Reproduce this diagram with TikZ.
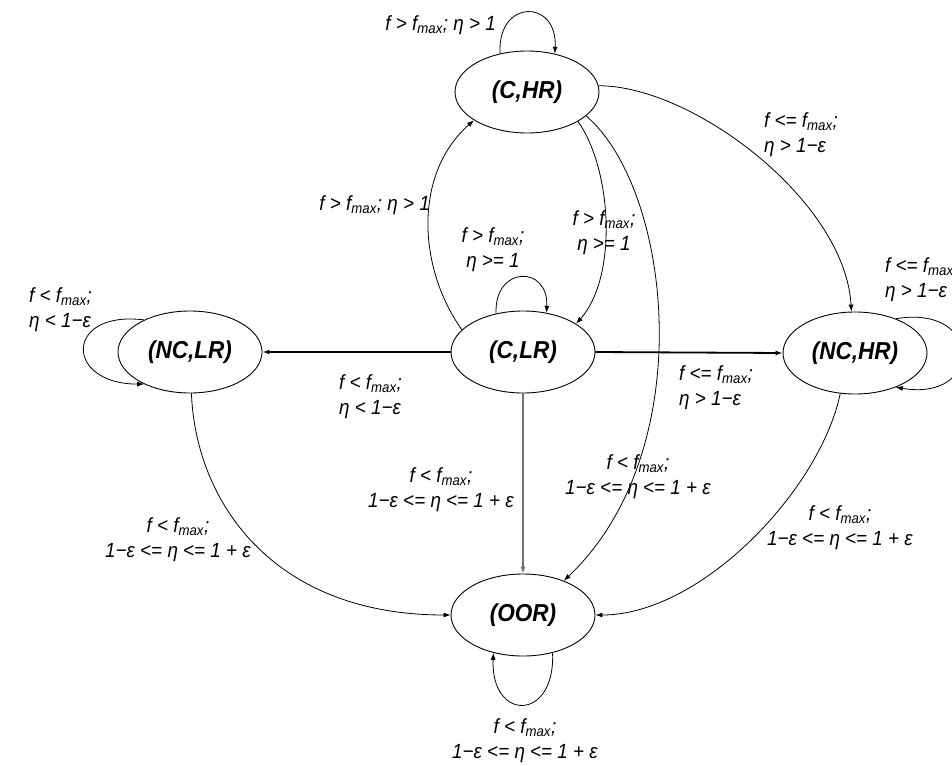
\documentclass[tikz,border=0pt]{standalone}
\usepackage{fontspec}
\setmainfont[FakeStretch=0.92]{Liberation Sans}
\usetikzlibrary{shapes.geometric,arrows.meta}
\newcommand\fmax{f\textsubscript{max}}
\begin{document}
\begin{tikzpicture}[x=1pt,y=-1pt,
  state/.style={ellipse,draw,line width=0.9pt,minimum width=144pt,minimum height=82pt,
    inner sep=0pt,font=\fontsize{24.5}{27}\selectfont\bfseries\itshape},
  lbl/.style={font=\fontsize{20.5}{25}\selectfont\itshape,inner sep=1pt,align=center},
  lbll/.style={lbl,align=left,anchor=west},
  tr/.style={line width=0.8pt,-{Latex[length=7pt,width=5pt]}},
  heavy/.style={tr,line width=1.8pt},
  greyline/.style={tr,line width=1.2pt,draw=black!55}]

\useasboundingbox[fill=white] (0,0) rectangle (952,765);

% states
\node[state] (CHR)  at (527,92)  {(C,HR)};
\node[state] (CLR)  at (523,352) {(C,LR)};
\node[state] (NCLR) at (190,352) {(NC,LR)};
\node[state] (NCHR) at (855,353) {(NC,HR)};
\node[state] (OOR)  at (523,615) {(OOR)};

% transitions between states
\draw[heavy] (CLR.west) -- (NCLR.east);
\draw[heavy] (CLR.east) -- (NCHR.west);
\draw[greyline] (CLR.south) -- (OOR.north);
\draw[tr] (CLR.160) .. controls +(-43,-60) and +(-62,55) .. (CHR.208);
\draw[tr] (CHR.-30) .. controls +(34,48) and +(42,-47) .. (CLR.28);
\draw[tr] (CHR.-22) .. controls +(86,74) and +(137,-130) .. (OOR.40);
\draw[tr] (CHR.5) .. controls +(95,0) and +(-6,-110) .. (NCHR.95);
\draw[tr] (NCLR.-88) .. controls +(4,106) and +(-180,0) .. (OOR.west);
\draw[tr] (NCHR.-110) .. controls +(-20,96) and +(106,0) .. (OOR.east);

% self loops
\draw[tr] (CHR.125) .. controls +(-3,-55) and +(3,-55) .. (CHR.54);
\draw[tr] (CLR.125) .. controls +(-2,-48) and +(2,-48) .. (CLR.59);
\draw[tr] (NCLR.145) .. controls +(-80,-10) and +(-80,0) .. (NCLR.215);
\draw[tr] (NCHR.40) .. controls +(88,-15) and +(88,15) .. (NCHR.-40);
\draw[tr] (OOR.-52) .. controls +(3,69) and +(-3,69) .. (OOR.-128);

% conditions
\node[lbl,anchor=east] (lChr) at (497,25) {f > \fmax; η > 1};
\node[lbl,anchor=east] (lUp) at (431,205) {f > \fmax; η > 1};
\node[lbl] (lClr) at (493,250) {f > \fmax;\\ η >= 1};
\node[lbl] (lDown) at (604,233) {f > \fmax;\\ η >= 1};
\node[lbll] (lToNchr) at (763,135) {f <= \fmax;\\ η > 1−ε};
\node[lbll] (lNchr) at (884,280) {f <= \fmax;\\ η > 1−ε};
\node[lbll] (lNclr) at (28,310) {f < \fmax;\\ η < 1−ε};
\node[lbll] (lLeft) at (338,397) {f < \fmax;\\ η < 1−ε};
\node[lbll] (lRight) at (678,388) {f <= \fmax;\\ η > 1−ε};
\node[lbl] (lMid) at (441,490) {f < \fmax;\\ 1−ε <= η <= 1 + ε};
\node[lbl] (lLong) at (638,477) {f < \fmax;\\ 1−ε <= η <= 1 + ε};
\node[lbl] (lNchrO) at (840,528) {f < \fmax;\\ 1−ε <= η <= 1 + ε};
\node[lbl] (lNclrO) at (178,540) {f < \fmax;\\ 1−ε <= η <= 1 + ε};
\node[lbl] (lOor) at (525,741) {f < \fmax;\\ 1−ε <= η <= 1 + ε};
\end{tikzpicture}
\end{document}
